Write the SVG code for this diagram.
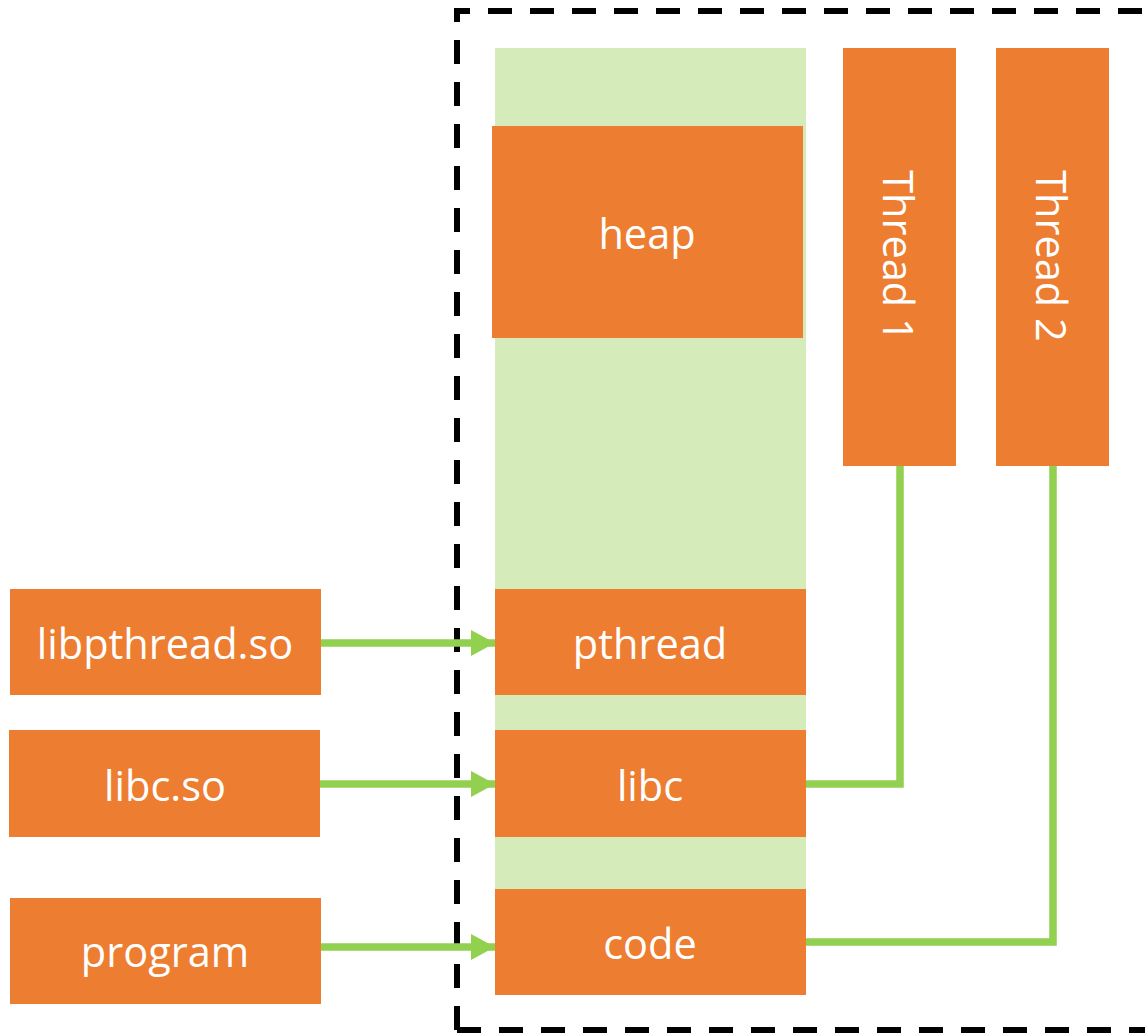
<svg xmlns="http://www.w3.org/2000/svg" width="1145" height="1035" viewBox="0 0 1145 1035">
<defs>
<style>
.box{fill:#ED7D31}
.lbl{fill:#FFFFFF;font-family:"Open Sans","Liberation Sans",sans-serif;font-size:41.5px;text-anchor:middle;dominant-baseline:central}
.conn{fill:none;stroke:#92D050;stroke-width:7.5}
</style>
<marker id="arr" viewBox="0 0 24 26" refX="24" refY="13" markerWidth="24" markerHeight="26" markerUnits="userSpaceOnUse" orient="auto">
<path d="M0,0 L24,13 L0,26 Z" fill="#92D050"/>
</marker>
</defs>
<rect width="1145" height="1035" fill="#FFFFFF"/>
<path id="process-boundary" d="M457,1030 L457,11 L1180,11 M457,1030 L1180,1030" fill="none" stroke="#000000" stroke-width="6" stroke-dasharray="24 18"/>
<rect id="memory-column" x="495" y="48" width="311" height="947" fill="#D5EBBA"/>
<g id="heap"><rect class="box" x="492" y="126" width="311" height="212"/><text class="lbl" x="647" y="233">heap</text></g>
<g id="pthread"><rect class="box" x="495" y="589" width="311" height="106"/><text class="lbl" x="650" y="643">pthread</text></g>
<g id="libc"><rect class="box" x="495" y="730" width="311" height="107"/><text class="lbl" x="650" y="785">libc</text></g>
<g id="code"><rect class="box" x="495" y="889" width="311" height="106"/><text class="lbl" x="650" y="943">code</text></g>
<g id="libpthread-so"><rect class="box" x="10" y="589" width="311" height="106"/><text class="lbl" x="165" y="643">libpthread.so</text></g>
<g id="libc-so"><rect class="box" x="9" y="730" width="311" height="107"/><text class="lbl" x="165" y="785">libc.so</text></g>
<g id="program"><rect class="box" x="10" y="898" width="311" height="106"/><text class="lbl" x="165" y="951">program</text></g>
<g id="thread1"><rect class="box" x="843" y="48" width="113" height="418"/><text class="lbl" transform="translate(899,256) rotate(90)">Thread 1</text></g>
<g id="thread2"><rect class="box" x="996" y="48" width="113" height="418"/><text class="lbl" transform="translate(1052,256) rotate(90)">Thread 2</text></g>
<g id="connectors">
<line class="conn" x1="321" y1="643" x2="495" y2="643" marker-end="url(#arr)"/>
<line class="conn" x1="320" y1="784" x2="495" y2="784" marker-end="url(#arr)"/>
<line class="conn" x1="321" y1="947" x2="495" y2="947" marker-end="url(#arr)"/>
<path class="conn" d="M900,466 L900,784 L806,784"/>
<path class="conn" d="M1053,466 L1053,942 L806,942"/>
</g>
</svg>
